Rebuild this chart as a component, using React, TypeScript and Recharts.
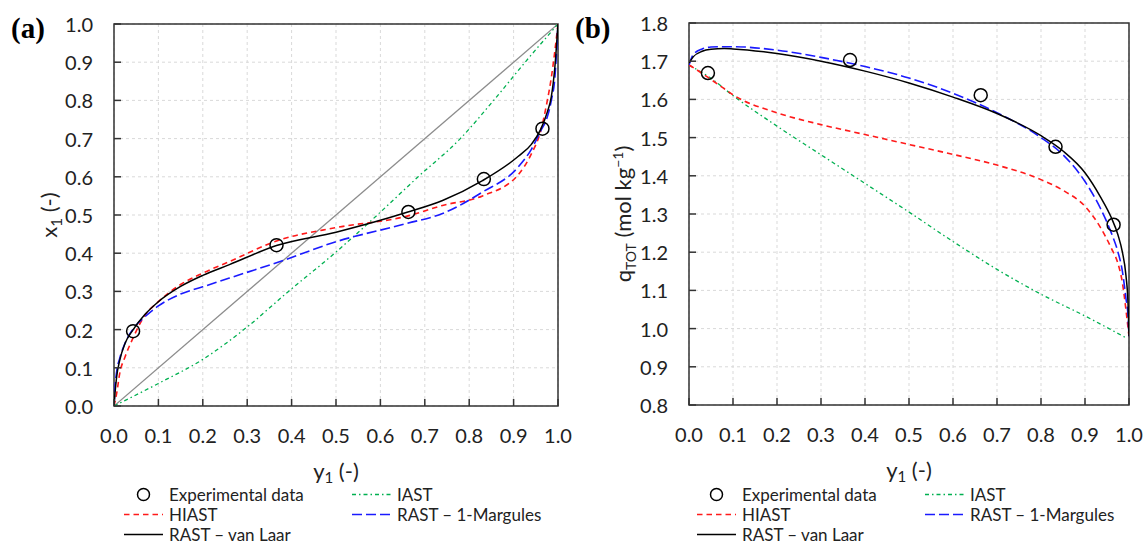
import React from 'react';
import {
  ComposedChart,
  Line,
  Scatter,
  XAxis,
  YAxis,
  CartesianGrid,
  ReferenceArea,
  Legend,
} from 'recharts';

// axis ticks
const TICKS_01 = [0, 0.1, 0.2, 0.3, 0.4, 0.5, 0.6, 0.7, 0.8, 0.9, 1.0];
const TICKS_Q = [0.8, 0.9, 1.0, 1.1, 1.2, 1.3, 1.4, 1.5, 1.6, 1.7, 1.8];

// experimental points (shared y1)
const EXP_Y1 = [0.043, 0.366, 0.663, 0.833, 0.965];
const EXP_X1 = [0.196, 0.421, 0.508, 0.594, 0.726];
const EXP_QTOT = [1.669, 1.703, 1.611, 1.476, 1.272];

// panel (a): x1 vs y1
const A_Y1 = [0, 0.002, 0.006, 0.013, 0.025, 0.042, 0.07, 0.1, 0.15, 0.2, 0.26, 0.366, 0.5, 0.66, 0.74, 0.83, 0.91, 0.94, 0.961, 0.976, 0.985, 0.993, 1];
const A_VANLAAR = [0, 0.03, 0.077, 0.12, 0.164, 0.198, 0.24, 0.273, 0.313, 0.342, 0.37, 0.42, 0.455, 0.507, 0.538, 0.59, 0.653, 0.685, 0.724, 0.77, 0.81, 0.888, 1];
const A_HIAST = [0, 0.01, 0.033, 0.086, 0.129, 0.176, 0.238, 0.273, 0.318, 0.348, 0.378, 0.432, 0.467, 0.497, 0.525, 0.55, 0.605, 0.66, 0.72, 0.8, 0.86, 0.93, 1];
const A_MARGULES = [0, 0.045, 0.09, 0.125, 0.165, 0.2, 0.234, 0.262, 0.293, 0.312, 0.335, 0.375, 0.43, 0.478, 0.504, 0.56, 0.625, 0.672, 0.72, 0.757, 0.8, 0.86, 1];
const A_IAST_Y1 = [0, 0.1, 0.2, 0.3, 0.393, 0.497, 0.593, 0.685, 0.78, 0.855, 0.926, 1];
const A_IAST = [0, 0.059, 0.122, 0.207, 0.3, 0.4, 0.5, 0.6, 0.7, 0.8, 0.9, 1];
const DIAG = [0, 1];

// panel (b): qTOT vs y1
const B_Y1 = [0, 0.01, 0.03, 0.05, 0.08, 0.1, 0.2, 0.3, 0.4, 0.5, 0.6, 0.7, 0.8, 0.85, 0.9, 0.935, 0.96, 0.975, 0.985, 0.993, 0.998, 1];
const B_VANLAAR = [1.695, 1.712, 1.726, 1.731, 1.733, 1.732, 1.72, 1.7, 1.674, 1.643, 1.606, 1.563, 1.505, 1.465, 1.408, 1.345, 1.29, 1.245, 1.2, 1.14, 1.06, 0.98];
const B_MARGULES = [1.69, 1.718, 1.732, 1.737, 1.738, 1.738, 1.729, 1.71, 1.686, 1.656, 1.616, 1.565, 1.5, 1.455, 1.385, 1.315, 1.25, 1.2, 1.15, 1.08, 1.03, 0.98];
const B_HIAST = [1.69, 1.683, 1.668, 1.652, 1.628, 1.612, 1.565, 1.534, 1.508, 1.482, 1.456, 1.428, 1.39, 1.362, 1.32, 1.265, 1.21, 1.17, 1.12, 1.05, 1.0, 0.98];
const B_IAST_Y1 = [0, 0.05, 0.1, 0.2, 0.3, 0.4, 0.5, 0.6, 0.7, 0.8, 0.9, 0.993];
const B_IAST = [1.69, 1.655, 1.61, 1.53, 1.455, 1.38, 1.305, 1.228, 1.155, 1.09, 1.033, 0.976];

const FONT = 'Lato, "Open Sans", sans-serif';
const TEXT = '#222';
const FRAME = '#333';

const STYLE = {
  iast: { stroke: '#00b050', dash: '4 3 1.5 3', width: 1.3 },
  hiast: { stroke: '#ff1a1a', dash: '5.5 4', width: 1.6 },
  margules: { stroke: '#1a1aff', dash: '10 4', width: 1.6 },
  vanLaar: { stroke: '#000000', dash: undefined, width: 1.5 },
};

const pts = (xs: number[], ys: number[]) => xs.map((x, i) => ({ x, y: ys[i] }));

function YTick(props: any) {
  const { x, y, payload } = props;
  return (
    <g>
      <line x1={x} x2={x + 7} y1={y} y2={y} stroke={FRAME} strokeWidth={1.5} />
      <text x={x - 21} y={y} textAnchor="end" dominantBaseline="central" fontSize={20} fill={TEXT} fontFamily={FONT}>
        {payload.value.toFixed(1)}
      </text>
    </g>
  );
}

function XTick(props: any) {
  const { x, y, payload } = props;
  return (
    <g>
      <line x1={x} x2={x} y1={y} y2={y - 7} stroke={FRAME} strokeWidth={1.5} />
      <text x={x} y={y + 29} textAnchor="middle" dominantBaseline="central" fontSize={20} fill={TEXT} fontFamily={FONT}>
        {payload.value.toFixed(1)}
      </text>
    </g>
  );
}

const xTitle = (props: any) => {
  const vb = props.viewBox;
  const cx = vb.x + vb.width / 2;
  return (
    <text x={cx} y={vb.y + 73} textAnchor="middle" fontSize={22} fill={TEXT} fontFamily={FONT}>
      y<tspan fontSize={15} dy={4}>1</tspan>
      <tspan dy={-4}> (-)</tspan>
    </text>
  );
};

const yTitleA = (props: any) => {
  const vb = props.viewBox;
  const cx = vb.x + 57;
  const cy = vb.y + vb.height / 2;
  return (
    <text x={cx} y={cy} transform={`rotate(-90 ${cx} ${cy})`} textAnchor="middle" fontSize={22} fill={TEXT} fontFamily={FONT}>
      x<tspan fontSize={15} dy={5}>1</tspan>
      <tspan dy={-5}> (-)</tspan>
    </text>
  );
};

const yTitleB = (props: any) => {
  const vb = props.viewBox;
  const cx = vb.x + 61;
  const cy = vb.y + vb.height / 2;
  return (
    <text x={cx} y={cy} transform={`rotate(-90 ${cx} ${cy})`} textAnchor="middle" fontSize={22} fill={TEXT} fontFamily={FONT}>
      q<tspan fontSize={14} dy={5}>TOT</tspan>
      <tspan dy={-5}> (mol kg</tspan>
      <tspan fontSize={14} dy={-8}>−1</tspan>
      <tspan dy={8}>)</tspan>
    </text>
  );
};

const circleShape = (props: any) => (
  <circle cx={props.cx} cy={props.cy} r={6.5} fill="none" stroke="#000" strokeWidth={1.5} />
);

const LEGEND_ROWS = [
  { name: 'Experimental data', key: 'exp' },
  { name: 'IAST', key: 'iast' },
  { name: 'HIAST', key: 'hiast' },
  { name: 'RAST – 1-Margules', key: 'margules' },
  { name: 'RAST – van Laar', key: 'vanLaar' },
];

function LegendBox({ colWidth }: { colWidth: number }) {
  return (
    <div
      style={{
        display: 'grid',
        gridTemplateColumns: `${colWidth}px ${colWidth}px`,
        gridAutoRows: '20px',
        fontFamily: FONT,
        fontSize: 17,
        lineHeight: '19px',
        color: TEXT,
      }}
    >
      {LEGEND_ROWS.map((r) => {
        const s = (STYLE as any)[r.key];
        return (
          <div key={r.key} style={{ display: 'flex', alignItems: 'center', whiteSpace: 'nowrap' }}>
            <svg width={39} height={19} style={{ flex: 'none' }}>
              {s ? (
                <line x1={0} x2={39} y1={9.5} y2={9.5} stroke={s.stroke} strokeWidth={s.width} strokeDasharray={s.dash} />
              ) : (
                <circle cx={19.5} cy={9.5} r={6} fill="none" stroke="#000" strokeWidth={1.5} />
              )}
            </svg>
            <span style={{ marginLeft: 6 }}>{r.name}</span>
          </div>
        );
      })}
    </div>
  );
}

type Panel = {
  yTicks: number[];
  yDomain: [number, number];
  yWidth: number;
  right: number;
  top: number;
  yTitle: (p: any) => React.ReactElement;
  curves: { key: keyof typeof STYLE; data: { x: number; y: number }[] }[];
  exp: { x: number; y: number }[];
  diag?: { x: number; y: number }[];
  legendLeft: number;
};

function PanelChart({ p, width }: { p: Panel; width: number }) {
  return (
    <ComposedChart
      width={width}
      height={545}
      margin={{ top: p.top, right: p.right, left: 0, bottom: 545 - p.top - 382 - 40 }}
    >
      <CartesianGrid stroke="#d9d9d9" strokeDasharray="3 3" />
      <XAxis
        type="number"
        dataKey="x"
        domain={[0, 1]}
        ticks={TICKS_01}
        interval={0}
        allowDataOverflow
        height={40}
        axisLine={false}
        tickLine={false}
        tickSize={0}
        tickMargin={0}
        tick={(t: any) => <XTick {...t} />}
        label={xTitle}
      />
      <YAxis
        type="number"
        dataKey="y"
        domain={p.yDomain}
        ticks={p.yTicks}
        interval={0}
        allowDataOverflow
        width={p.yWidth}
        axisLine={false}
        tickLine={false}
        tickSize={0}
        tickMargin={0}
        tick={(t: any) => <YTick {...t} />}
        label={p.yTitle}
      />
      <ReferenceArea
        x1={0}
        x2={1}
        y1={p.yDomain[0]}
        y2={p.yDomain[1]}
        fill="none"
        fillOpacity={0}
        stroke={FRAME}
        strokeWidth={1.5}
      />
      {p.diag && (
        <Line
          data={p.diag}
          dataKey="y"
          type="linear"
          stroke="#8c8c8c"
          strokeWidth={1.3}
          dot={false}
          activeDot={false}
          isAnimationActive={false}
        />
      )}
      {p.curves.map((c) => {
        const s = STYLE[c.key];
        return (
          <Line
            key={c.key}
            data={c.data}
            dataKey="y"
            type="monotone"
            stroke={s.stroke}
            strokeWidth={s.width}
            strokeDasharray={s.dash}
            dot={false}
            activeDot={false}
            isAnimationActive={false}
          />
        );
      })}
      <Scatter data={p.exp} dataKey="y" shape={circleShape} isAnimationActive={false} />
      <Legend
        layout="horizontal"
        verticalAlign="middle"
        align="center"
        wrapperStyle={{ left: p.legendLeft, top: 484, width: 470, height: 60 }}
        content={() => <LegendBox colWidth={228} />}
      />
    </ComposedChart>
  );
}

const panelA: Panel = {
  yTicks: TICKS_01,
  yDomain: [0, 1],
  yWidth: 114,
  right: 22,
  top: 24,
  yTitle: yTitleA,
  diag: pts(DIAG, DIAG),
  curves: [
    { key: 'iast', data: pts(A_IAST_Y1, A_IAST) },
    { key: 'hiast', data: pts(A_Y1, A_HIAST) },
    { key: 'margules', data: pts(A_Y1, A_MARGULES) },
    { key: 'vanLaar', data: pts(A_Y1, A_VANLAAR) },
  ],
  exp: pts(EXP_Y1, EXP_X1),
  legendLeft: 124,
};

const panelB: Panel = {
  yTicks: TICKS_Q,
  yDomain: [0.8, 1.8],
  yWidth: 119,
  right: 18,
  top: 23,
  yTitle: yTitleB,
  curves: [
    { key: 'iast', data: pts(B_IAST_Y1, B_IAST) },
    { key: 'hiast', data: pts(B_Y1, B_HIAST) },
    { key: 'margules', data: pts(B_Y1, B_MARGULES) },
    { key: 'vanLaar', data: pts(B_Y1, B_VANLAAR) },
  ],
  exp: pts(EXP_Y1, EXP_QTOT),
  legendLeft: 127,
};

const tag: React.CSSProperties = {
  position: 'absolute',
  top: 10,
  fontFamily: '"Liberation Serif", "Times New Roman", serif',
  fontWeight: 'bold',
  fontSize: 29,
  lineHeight: '36px',
  color: '#000',
};

export default function App() {
  return (
    <div style={{ position: 'fixed', left: 0, top: 0, width: 1147, height: 545, background: '#fff', overflow: 'hidden' }}>
      <div style={{ position: 'absolute', left: 0, top: 0 }}>
        <PanelChart p={panelA} width={580} />
      </div>
      <div style={{ position: 'absolute', left: 570, top: 0 }}>
        <PanelChart p={panelB} width={577} />
      </div>
      <div style={{ ...tag, left: 11 }}>(a)</div>
      <div style={{ ...tag, left: 575 }}>(b)</div>
    </div>
  );
}
